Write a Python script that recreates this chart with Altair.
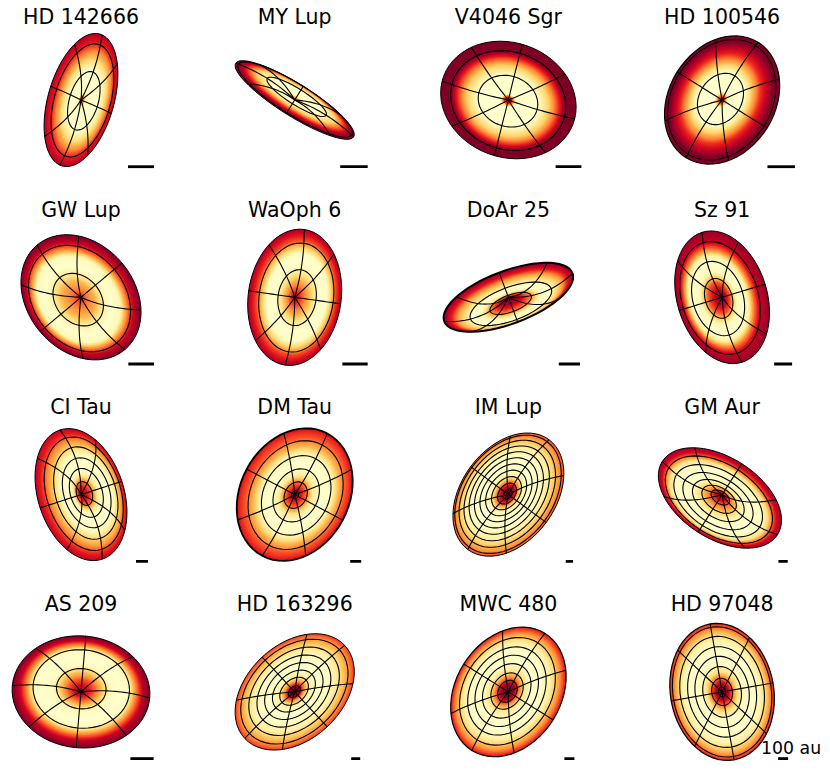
import numpy as np
import altair as alt

# Disc parameters, in screen pixels around each star
names = ['HD 142666', 'MY Lup', 'V4046 Sgr', 'HD 100546',
         'GW Lup', 'WaOph 6', 'DoAr 25', 'Sz 91',
         'CI Tau', 'DM Tau', 'IM Lup', 'GM Aur',
         'AS 209', 'HD 163296', 'MWC 480', 'HD 97048']
major = [68.6, 69.5, 69, 68, 68.3, 68.5, 68.5, 68, 68, 69.3, 68.3, 68.3, 69, 68.3, 69, 69]
minor = [33, 16.2, 57.3, 53, 53.5, 46.5, 26.4, 45, 43, 54.4, 47, 40.7, 56, 47.7, 52.7, 51.7]
tilt = [74, -32, -20, 58, -50, 82, 20.6, -73, -72, 62, 53.5, -32.5, -5, 43, 58, -80]
spoke_rot = [4, 0, -5, 0, 0, 0, 0, 0, 0, 0, 0, 0, 0, 0, 0, 0]
lift1 = [12, -15, 5, -8, 15, 10, 30, 17, -24, 7, -12, 26, -14, -5, -8, 0]
lift2 = [-12, 15, -5, 8, -15, -10, -30, -17, 24, -7, 12, -22, 14, 5, 8, 0]
bar_len = [28, 31, 27.6, 31.3, 27.4, 26.7, 21.3, 18, 12, 11, 7.3, 9.3, 23.3, 9, 10, 10]
edge = [1, 1, 1, 1.2, 1, 1, 2, 1, 1, 1.8, 1, 1, 1, 1, 1.2, 1.2]
rings = [
    [.44, .85, 1], [.5, .96, 1], [.44, .85, 1], [.4, .94, 1],
    [.42, .85, 1], [.41, .8, 1], [.32, .63, 1], [.3, .56, .85, 1],
    [.18, .37, .53, .7, .86, 1], [.06, .2, .4, .6, .82, 1],
    [.08, .17, .27, .37, .47, .57, .67, .77, .87, .96, 1], [.15, .28, .42, .57, .72, .87, 1],
    [.36, .7, 1], [.1, .24, .36, .49, .62, .76, .9, 1],
    [.17, .28, .42, .55, .68, .83, 1], [.07, .2, .37, .52, .66, .81, .95, 1],
]
tone_at = [
    [0, .05, .12, .45, .6, .75, .85, 1], [0, .04, .15, .4, .65, .8, .9, 1],
    [0, .06, .12, .45, .62, .75, .85, 1], [0, .05, .13, .42, .55, .7, .9, 1],
    [0, .1, .3, .45, .55, .7, .8, .9, 1], [0, .1, .25, .4, .5, .65, .75, .85, 1],
    [0, .15, .32, .45, .6, .8, .9, 1], [0, .1, .25, .32, .4, .55, .65, .75, .85, 1],
    [0, .1, .2, .27, .35, .5, .6, .7, .8, .9, 1], [0, .1, .2, .3, .4, .5, .62, .72, .85, 1],
    [0, .1, .18, .25, .33, .45, .6, .75, .9, 1], [0, .1, .2, .3, .4, .55, .7, .8, .88, .95, 1],
    [0, .08, .2, .35, .42, .6, .7, .8, .9, 1], [0, .1, .17, .25, .4, .55, .7, .85, 1],
    [0, .12, .2, .3, .42, .6, .75, .88, 1], [0, .12, .2, .3, .4, .6, .75, .88, 1],
]
tone = [
    [.95, .6, .02, 0, .2, .5, .72, .88], [.9, .7, .02, 0, .25, .65, .9, 1],
    [.8, .8, 0, 0, .3, .7, 1, 1], [.95, .75, 0, 0, .3, .7, 1, 1],
    [.9, .6, .35, .08, 0, .05, .5, .85, 1], [.95, .7, .4, .1, 0, .02, .3, .65, .9],
    [1, .9, .5, .05, 0, .4, .75, .95], [1, .9, .6, .3, .05, 0, .1, .55, .85, .95],
    [.95, .8, .5, .15, .02, 0, .05, .25, .45, .7, .85], [.9, .8, .55, .15, .02, 0, .05, .3, .58, .78],
    [1, .95, .65, .25, .05, 0, .02, .12, .4, .62], [.95, .8, .5, .25, .05, 0, .02, .2, .6, .85, .9],
    [1, .85, .6, .2, .03, 0, .05, .5, .85, 1], [1, .95, .5, .12, 0, .02, .1, .35, .66],
    [1, .95, .6, .2, .02, 0, .1, .4, .76], [1, .9, .6, .2, .03, 0, .08, .35, .72],
]
tone_domain = [0, .125, .25, .375, .5, .625, .75, .875, 1]
tone_colors = ['#ffffcc', '#ffeda0', '#fed976', '#feb24c', '#fd8d3c', '#fc4e2a', '#e31a1c', '#bd0026', '#800026']

panel_w = 146
panel_h = 144
star_x = 73
star_y = 75
steps = np.linspace(1, 0.01, 60)
angles = np.radians(np.arange(0, 361, 6))


def surface(i, f, phi):
    # point on the tilted disc at radius fraction f and disc angle phi
    th = np.radians(tilt[i])
    ux, uy = np.cos(th), -np.sin(th)
    vx, vy = np.sin(th), np.cos(th)
    along = f * major[i] * np.cos(phi)
    across = f * minor[i] * np.sin(phi) + lift1[i] * f + lift2[i] * f ** 2
    return np.round(along * ux + across * vx, 2), np.round(along * uy + across * vy, 2)


def feature(kind, xs, ys, **props):
    coords = [[float(a), float(b)] for a, b in zip(xs, ys)]
    geom = {'type': 'Polygon', 'coordinates': [coords]} if kind == 'fill' else \
        {'type': 'LineString', 'coordinates': coords}
    return {'type': 'Feature', 'geometry': geom, 'properties': props}


def panel(i):
    fills = []
    for f in steps:
        xs, ys = surface(i, f, angles)
        fills.append(feature('fill', xs, ys, tone=float(np.interp(f, tone_at[i], tone[i]))))

    lines = []
    for r in rings[i]:
        xs, ys = surface(i, r, angles)
        lines.append(feature('line', xs, ys, w=edge[i] if r == 1 else 1.1))
    radial = np.linspace(0, 1, 25)
    for k in range(8):
        phi = np.radians(spoke_rot[i] + 45 * k)
        xs, ys = surface(i, radial, np.full(25, phi))
        lines.append(feature('line', xs, ys, w=1.1))
    half = bar_len[i] / 2
    lines.append(feature('line', [61 - half, 61 + half], [66.7, 66.7], w=2.8))

    proj = {'type': 'identity', 'scale': 1, 'translate': [star_x, star_y]}
    disc = alt.Chart(alt.Data(values=fills)).mark_geoshape(strokeWidth=0).encode(
        color=alt.Color('properties.tone:Q', legend=None,
                        scale=alt.Scale(domain=tone_domain, range=tone_colors))
    ).project(**proj)
    grid = alt.Chart(alt.Data(values=lines)).mark_geoshape(filled=False, stroke='black', strokeCap='butt').encode(
        strokeWidth=alt.StrokeWidth('properties.w:Q', scale=None)
    ).project(**proj)

    layers = [disc, grid]
    if i == len(names) - 1:
        label = alt.Chart(alt.Data(values=[{'t': '100 au'}])).mark_text(
            font='DejaVu Sans', fontSize=17.3, color='black', align='center', baseline='alphabetic'
        ).encode(text='t:N', x=alt.value(star_x + 69), y=alt.value(star_y + 62))
        layers.append(label)

    return alt.layer(*layers).properties(
        width=panel_w, height=panel_h,
        title=alt.TitleParams(names[i], font='DejaVu Sans', fontSize=20.5, fontWeight='normal',
                              color='black', anchor='middle', offset=-3.5 if i < 4 else 1)
    )


chart = alt.concat(*[panel(i) for i in range(16)], columns=4, bounds='flush',
                   spacing={'column': 67.7, 'row': 53.3}).properties(
    padding={'left': 0, 'top': 0, 'right': 0, 'bottom': 0}
).configure_view(strokeWidth=0)

chart.save("out.html", embed_options={"renderer": "svg", "actions": False})
